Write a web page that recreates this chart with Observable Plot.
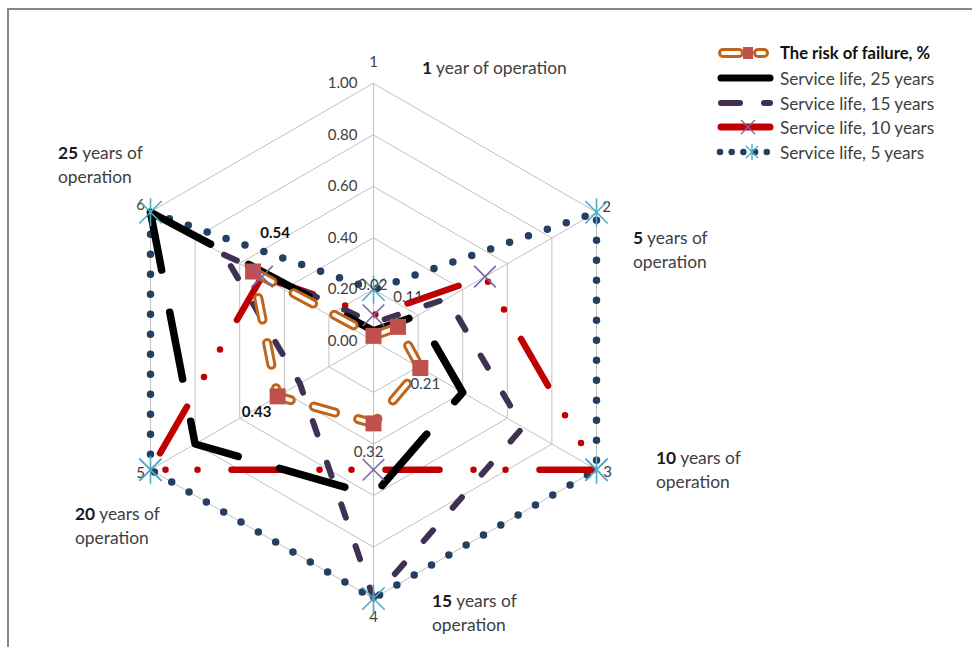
<!DOCTYPE html>
<html><head><meta charset="utf-8">
<script src="https://cdn.jsdelivr.net/npm/d3@7"></script>
<script src="https://cdn.jsdelivr.net/npm/@observablehq/plot@0.6"></script>
<style>
html,body{margin:0;padding:0;background:#fff;}
#wrap{position:relative;width:972px;height:647px;overflow:hidden;font-family:Lato,"Open Sans",sans-serif;background:#fff;}
#chart{position:absolute;left:0;top:0;}
#frame{position:absolute;left:7px;top:8px;width:1000px;height:700px;border-top:2px solid #878787;border-left:2px solid #878787;}
.ann{position:absolute;font-size:17.4px;color:#404040;line-height:23.5px;white-space:nowrap;}
.ann b{color:#1a1a1a;}
.lg{position:absolute;left:716px;height:24px;display:flex;align-items:center;white-space:nowrap;font-size:17.2px;color:#404040;}
.lg svg{margin-right:6px;flex:none;}
</style></head><body>
<div id="wrap"><div id="frame"></div><div id="chart"></div></div>
<script>
// ---------------- data ----------------
const axes = ["1", "2", "3", "4", "5", "6"];
const riskOfFailure = [0.02, 0.11, 0.21, 0.32, 0.43, 0.54];
const serviceLife25 = [0.04, 0.2, 0.4, 0.6, 0.8, 1.0];
const serviceLife15 = [0.07, 0.33, 0.67, 1.0, 0.33, 0.67];
const serviceLife10 = [0.1, 0.5, 1.0, 0.5, 1.0, 0.5];
const serviceLife5 = [0.2, 1.0, 1.0, 1.0, 1.0, 1.0];
const gridLevels = [0.2, 0.4, 0.6, 0.8, 1.0];
const tickValues = [0, 0.2, 0.4, 0.6, 0.8, 1.0];
const periodCounts = ["1", "5", "10", "15", "20", "25"];
const periodTexts = [" year of operation", " years of<br>operation", " years of<br>operation", " years of<br>operation", " years of<br>operation", " years of<br>operation"];
const legendNames = ["The risk of failure, %", "Service life, 25 years", "Service life, 15 years", "Service life, 10 years", "Service life, 5 years"];

// ---------------- helpers ----------------
const ang = i => i * Math.PI / 3;
const px = (v, i) => v * Math.sin(ang(i));
const py = (v, i) => v * Math.cos(ang(i));
const CX = 373, CY = 340.5, R = 257.5;
// the lines are drawn starting from the last category, as the original does
const drawOrder = [5, 0, 1, 2, 3, 4];

const asterisk = {draw(ctx, size) {
  const r = Math.sqrt(size / Math.PI), d = r * 0.8;
  ctx.moveTo(0, -r); ctx.lineTo(0, r);
  ctx.moveTo(-d, -d); ctx.lineTo(d, d);
  ctx.moveTo(-d, d); ctx.lineTo(d, -d);
}};
const cross = {draw(ctx, size) {
  const r = Math.sqrt(size / Math.PI) * 0.72;
  ctx.moveTo(-r, -r); ctx.lineTo(r, r);
  ctx.moveTo(-r, r); ctx.lineTo(r, -r);
}};
const square = {draw(ctx, size) {
  const r = Math.sqrt(size / Math.PI);
  ctx.rect(-r, -r, 2 * r, 2 * r);
}};

const C = {
  grid: "#c0c0c0", text: "#404040",
  risk: "#c0641a", riskSq: "#c0504d",
  l25: "#000000", l15: "#403152", l10: "#c00000", l5: "#243f62",
  star: "#4bacc6", xm: "#8064a2"
};

const gridPts = gridLevels.flatMap(l => axes.map((a, i) => ({l, i})));
const catOff = [[0, -21], [10, -5], [11, 2], [0, 19], [-10, 3], [-10, -7]];
const riskOff = [[-1, -51], [10, -30], [5, 16], [-5, 29], [-21, 16], [22, -38]];
const riskBold = [false, false, false, false, true, true];

const series = (values, opts) => Plot.line(drawOrder, {
  x: i => px(values[i], i), y: i => py(values[i], i),
  curve: "linear-closed", strokeLinecap: "round", strokeLinejoin: "round", ...opts
});

const marks = [
  Plot.line(gridPts, {x: d => px(d.l, d.i), y: d => py(d.l, d.i), z: "l", curve: "linear-closed", stroke: C.grid, strokeWidth: 1}),
  Plot.link(axes, {x1: () => 0, y1: () => 0, x2: (d, i) => px(1, i), y2: (d, i) => py(1, i), stroke: C.grid, strokeWidth: 1}),
  Plot.text(tickValues, {x: () => 0, y: d => d, text: d => d.toFixed(2), textAnchor: "end", dx: -16, fontSize: 15, fill: C.text}),
  ...axes.map((a, i) => Plot.text([a], {x: () => px(1, i), y: () => py(1, i), text: d => d, dx: catOff[i][0], dy: catOff[i][1], fontSize: 15, fill: C.text})),
  series(serviceLife5, {stroke: C.l5, strokeWidth: 7.5, strokeDasharray: "0 20"}),
  series(serviceLife10, {stroke: C.l10, strokeWidth: 6.5, strokeDasharray: "54 34 0 32 0 34"}),
  series(serviceLife15, {stroke: C.l15, strokeWidth: 6, strokeDasharray: "14 30"}),
  series(serviceLife25, {stroke: C.l25, strokeWidth: 7.5, strokeDasharray: "68 43"}),
  series(riskOfFailure, {stroke: C.risk, strokeWidth: 10, strokeDasharray: "22 24"}),
  series(riskOfFailure, {stroke: "#ffffff", strokeWidth: 4, strokeDasharray: "22 24"}),
  Plot.dot(riskOfFailure, {x: (v, i) => px(v, i), y: (v, i) => py(v, i), symbol: square, r: 8, fill: C.riskSq, stroke: "none"}),
  Plot.dot(serviceLife10, {x: (v, i) => px(v, i), y: (v, i) => py(v, i), symbol: cross, r: 15, fill: "none", stroke: C.xm, strokeWidth: 1.6}),
  Plot.dot(serviceLife5, {x: (v, i) => px(v, i), y: (v, i) => py(v, i), symbol: asterisk, r: 14, fill: "none", stroke: C.star, strokeWidth: 1.6}),
  ...riskOfFailure.map((v, i) => Plot.text([v], {x: () => px(v, i), y: () => py(v, i), text: d => d.toFixed(2), dx: riskOff[i][0], dy: riskOff[i][1], fontSize: 15, fontWeight: riskBold[i] ? "bold" : "normal", fill: riskBold[i] ? "#111" : C.text}))
];

const chart = Plot.plot({
  width: 972, height: 647, margin: 0,
  x: {domain: [-1, 1], range: [CX - R, CX + R], axis: null},
  y: {domain: [-1, 1], range: [CY + R, CY - R], axis: null},
  style: {fontFamily: "Lato, 'Open Sans', sans-serif", background: "transparent", overflow: "visible"},
  marks
});
document.getElementById("chart").appendChild(chart);

// ---------------- annotations ----------------
const wrap = document.getElementById("wrap");
const annPos = [[422, 56], [633, 226], [656, 446], [432, 589], [75, 502], [58, 141]];
periodCounts.forEach((n, i) => {
  const d = document.createElement("div");
  d.className = "ann";
  d.style.left = annPos[i][0] + "px";
  d.style.top = annPos[i][1] + "px";
  d.innerHTML = "<b>" + n + "</b>" + periodTexts[i];
  wrap.appendChild(d);
});

// ---------------- legend ----------------
const NS = "http://www.w3.org/2000/svg";
function sample(k) {
  const s = document.createElementNS(NS, "svg");
  s.setAttribute("width", 58); s.setAttribute("height", 24);
  let h = "";
  if (k === 0) {
    h += `<line x1="7" y1="12" x2="23" y2="12" stroke="${C.risk}" stroke-width="10" stroke-linecap="round"/>`;
    h += `<line x1="7" y1="12" x2="23" y2="12" stroke="#fff" stroke-width="4" stroke-linecap="round"/>`;
    h += `<line x1="42" y1="12" x2="48" y2="12" stroke="${C.risk}" stroke-width="10" stroke-linecap="round"/>`;
    h += `<line x1="42" y1="12" x2="48" y2="12" stroke="#fff" stroke-width="4" stroke-linecap="round"/>`;
    h += `<rect x="27" y="6" width="10" height="12" fill="${C.riskSq}"/>`;
  } else if (k === 1) {
    h += `<line x1="5" y1="12" x2="54" y2="12" stroke="#000" stroke-width="7" stroke-linecap="round"/>`;
  } else if (k === 2) {
    h += `<line x1="5" y1="12" x2="24" y2="12" stroke="${C.l15}" stroke-width="6" stroke-linecap="round"/>`;
    h += `<line x1="48" y1="12" x2="54" y2="12" stroke="${C.l15}" stroke-width="6" stroke-linecap="round"/>`;
  } else if (k === 3) {
    h += `<line x1="5" y1="12" x2="54" y2="12" stroke="${C.l10}" stroke-width="7" stroke-linecap="round"/>`;
    h += `<path d="M25,5L39,19M25,19L39,5" stroke="${C.xm}" stroke-width="1.3" fill="none"/>`;
  } else {
    h += `<line x1="4" y1="12" x2="51" y2="12" stroke="${C.l5}" stroke-width="6.5" stroke-linecap="round" stroke-dasharray="0 11.7"/>`;
    h += `<path d="M36,4L36,20M30,6L42,18M30,18L42,6" stroke="${C.star}" stroke-width="1.4" fill="none"/>`;
  }
  s.innerHTML = h;
  return s;
}
const rowY = [53, 78, 103, 127, 152];
legendNames.forEach((name, k) => {
  const row = document.createElement("div");
  row.className = "lg";
  row.style.top = (rowY[k] - 12) + "px";
  row.appendChild(sample(k));
  const t = document.createElement("span");
  t.textContent = name;
  if (k === 0) { t.style.fontWeight = "bold"; t.style.color = "#111"; t.style.fontSize = "16.6px"; }
  row.appendChild(t);
  wrap.appendChild(row);
});
</script>
</body></html>
